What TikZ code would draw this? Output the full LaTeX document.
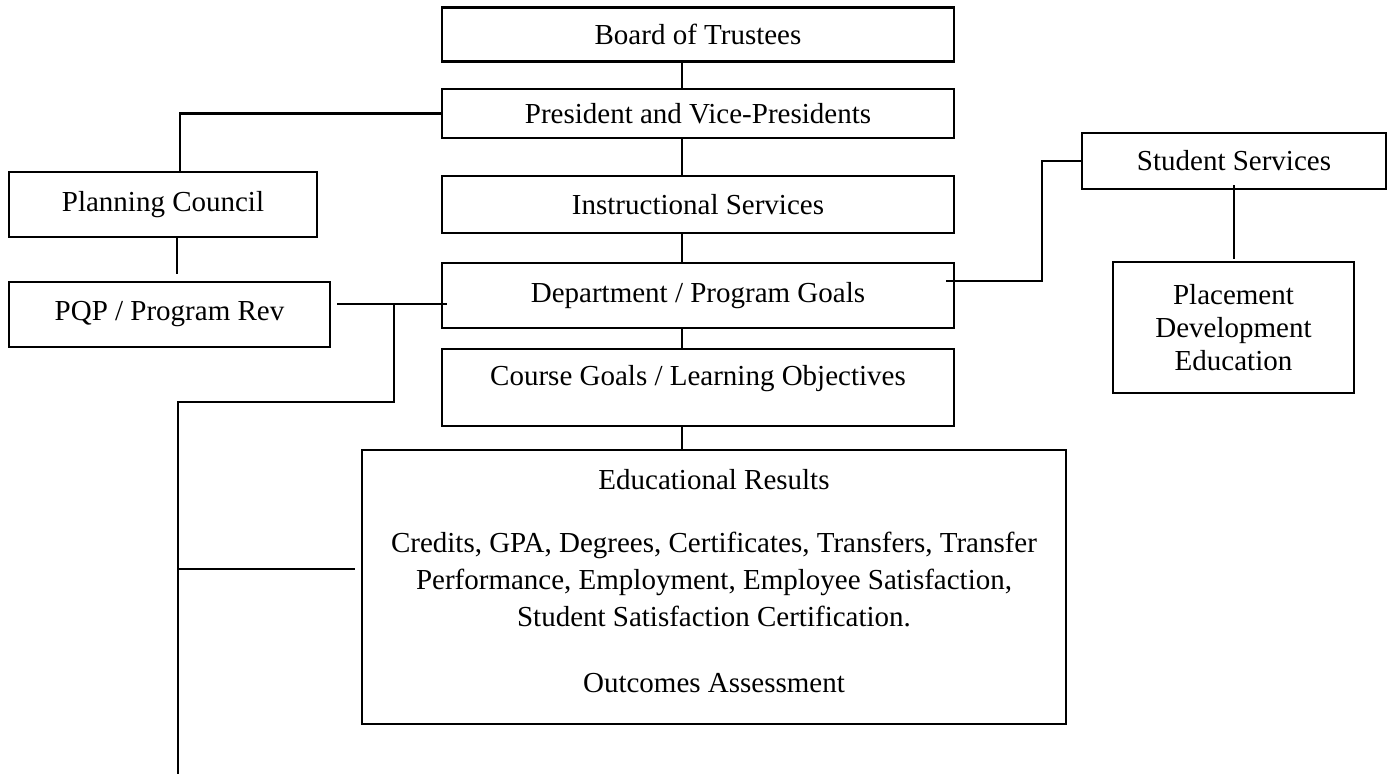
\documentclass[tikz,border=0pt]{standalone}
\usepackage{fontspec}
\setmainfont{Liberation Serif}
\usetikzlibrary{calc}
\begin{document}
\begin{tikzpicture}[x=1pt,y=-1pt,
  box/.style={draw=black, line width=2.3pt, rectangle, inner sep=0pt, align=center,
    font=\fontsize{29}{34}\selectfont},
  conn/.style={draw=black, line width=2.1pt}]
\useasboundingbox (0,0) rectangle (1392,774);
\fill[white] (0,0) rectangle (1392,774);

% central column
\node[box, minimum width=512pt, minimum height=54pt] (board) at (698,34.5) {Board of Trustees};
\node[box, minimum width=512pt, minimum height=49pt] (pres) at (698,113.5) {President and Vice-Presidents};
\node[box, minimum width=512pt, minimum height=57pt] (instr) at (698,204.5) {Instructional Services};
\node[box, minimum width=512pt, minimum height=65pt] (dept) at (698,295.5) {Department / Program Goals};
\node[box, minimum width=512pt, minimum height=77pt, text height=20pt, text depth=25pt] (course) at (698,387.5) {Course Goals / Learning Objectives};
\node[box, minimum width=704pt, minimum height=274pt, text depth=13pt] (edu) at (714,587)
  {Educational Results\\[29pt]
   Credits, GPA, Degrees, Certificates, Transfers, Transfer\\[3pt]
   Performance, Employment, Employee Satisfaction,\\[3pt]
   Student Satisfaction Certification.\\[32pt]
   Outcomes Assessment};

% left column
\node[box, minimum width=308pt, minimum height=65pt] (pc) at (163,204.5) {Planning Council};
\node[box, minimum width=321pt, minimum height=65pt] (pqp) at (169.5,314.5) {PQP / Program Rev};

% right column
\node[box, minimum width=304pt, minimum height=56pt] (ss) at (1234,161) {Student Services};
\node[box, minimum width=241pt, minimum height=131pt, font=\fontsize{29}{33}\selectfont] (place) at (1233.5,327.5) {Placement\\Development\\Education};

% coordinates
\coordinate (sx) at (682,0);
\coordinate (pcx) at (180,0);
\coordinate (pcEnd) at (177,274);
\coordinate (pqpStart) at (337,304);
\coordinate (deptIn) at (447,304);
\coordinate (j1) at (394,304);
\coordinate (j2) at (178,402);
\coordinate (bottomEnd) at (178,774);
\coordinate (eduIn) at (355,569);
\coordinate (deptOut) at (946,281);
\coordinate (bend) at (1042,281);
\coordinate (ssIn) at (1234,185);
\coordinate (plEnd) at (1234,259);

% spine
\draw[conn] (board.south -| sx) -- (pres.north -| sx);
\draw[conn] (pres.south -| sx) -- (instr.north -| sx);
\draw[conn] (instr.south -| sx) -- (dept.north -| sx);
\draw[conn] (dept.south -| sx) -- (course.north -| sx);
\draw[conn] (course.south -| sx) -- (edu.north -| sx);

% left connectors
\draw[conn] (pres.west) -| (pc.north -| pcx);
\draw[conn] (pc.south -| pcEnd) -- (pcEnd);
\draw[conn] (pqpStart) -- (deptIn);
\draw[conn] (j1) |- (j2) -- (bottomEnd);
\draw[conn] (j2 |- eduIn) -- (eduIn);

% right connectors
\draw[conn] (deptOut) -- (bend) |- (ss.west);
\draw[conn] (ssIn) -- (plEnd);
\end{tikzpicture}
\end{document}
